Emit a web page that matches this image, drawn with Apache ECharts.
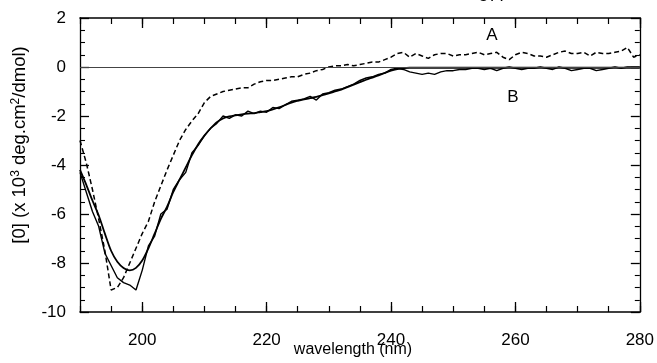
<!DOCTYPE html>
<html>
<head>
<meta charset="utf-8">
<script src="https://cdn.jsdelivr.net/npm/echarts@6/dist/echarts.min.js"></script>
<style>html,body{margin:0;padding:0;background:#fff;}#c{width:657px;height:363px;}</style>
</head>
<body>
<div id="c"></div>
<script>
var wavelength = [190,191,192,193,194,195,196,197,198,199,200,201,202,203,204,205,206,207,208,209,210,211,212,213,214,215,216,217,218,219,220,221,222,223,224,225,226,227,228,229,230,231,232,233,234,235,236,237,238,239,240,241,242,243,244,245,246,247,248,249,250,251,252,253,254,255,256,257,258,259,260,261,262,263,264,265,266,267,268,269,270,271,272,273,274,275,276,277,278,279,280];
var seriesA = [-3.0,-3.9,-5.0,-6.2,-7.5,-9.1,-9.0,-8.6,-8.0,-7.4,-6.8,-6.3,-5.5,-4.85,-4.2,-3.6,-3.0,-2.55,-2.2,-1.9,-1.45,-1.2,-1.1,-1.0,-0.95,-0.9,-0.85,-0.85,-0.7,-0.6,-0.55,-0.55,-0.5,-0.45,-0.4,-0.4,-0.3,-0.25,-0.15,-0.1,0.0,0.05,0.05,0.1,0.05,0.1,0.15,0.2,0.2,0.3,0.4,0.55,0.6,0.4,0.55,0.45,0.35,0.5,0.55,0.55,0.45,0.5,0.5,0.55,0.6,0.5,0.55,0.6,0.4,0.3,0.5,0.6,0.55,0.45,0.45,0.4,0.5,0.6,0.65,0.55,0.55,0.6,0.45,0.6,0.55,0.55,0.6,0.65,0.8,0.4,0.5];
var seriesBraw = [-4.3,-5.1,-5.9,-6.5,-7.6,-8.1,-8.6,-8.8,-8.9,-9.1,-8.3,-7.3,-6.9,-6.0,-5.8,-5.0,-4.6,-4.3,-3.5,-3.2,-2.8,-2.5,-2.3,-2.0,-2.1,-1.95,-2.0,-1.8,-1.9,-1.8,-1.85,-1.65,-1.7,-1.55,-1.4,-1.35,-1.3,-1.2,-1.35,-1.1,-1.05,-0.95,-0.9,-0.8,-0.7,-0.55,-0.45,-0.4,-0.3,-0.25,-0.1,-0.05,-0.1,-0.2,-0.25,-0.3,-0.25,-0.3,-0.2,-0.15,-0.15,-0.1,-0.1,-0.05,-0.05,-0.1,-0.05,-0.15,-0.05,0.0,-0.05,-0.1,-0.05,-0.05,0,-0.05,-0.1,0,-0.05,-0.15,-0.1,-0.05,-0.05,-0.15,-0.1,-0.05,0,-0.05,0,0,0];
var seriesBfit = [-4.2,-4.8,-5.45,-6.05,-6.8,-7.5,-7.95,-8.2,-8.3,-8.2,-7.9,-7.4,-6.8,-6.2,-5.7,-5.1,-4.6,-4.1,-3.6,-3.15,-2.8,-2.5,-2.25,-2.1,-2.02,-1.97,-1.93,-1.9,-1.88,-1.84,-1.8,-1.73,-1.65,-1.55,-1.45,-1.38,-1.32,-1.27,-1.22,-1.15,-1.08,-1.0,-0.92,-0.82,-0.72,-0.62,-0.52,-0.43,-0.34,-0.24,-0.15,-0.09,-0.05,-0.03,-0.03,-0.03,-0.03,-0.03,-0.03,-0.03,-0.03,-0.03,-0.03,-0.03,-0.03,-0.03,-0.03,-0.03,-0.03,-0.03,-0.03,-0.03,-0.03,-0.03,-0.03,-0.03,-0.03,-0.03,-0.03,-0.03,-0.03,-0.03,-0.03,-0.03,-0.03,-0.03,-0.03,-0.03,-0.03,-0.03,-0.03];
var xLabelValues = [200,220,240,260,280];
var yTicks = {min:-10, max:2, interval:2};

function pairs(xs, ys){ return xs.map(function(x,i){ return [x, ys[i]]; }); }

var FONT = 'Liberation Sans';
var chart = echarts.init(document.getElementById('c'), null, {renderer:'canvas'});

function xAxisDef(pos, major){
  var a = {
    type:'value', min:190, max:280, position:pos,
    axisLine:{show:major, onZero:false, lineStyle:{color:'#000', width:1.6}},
    splitLine:{show:false},
    axisLabel:{show:false}
  };
  if (major) {
    a.axisTick = {show:true, inside:true, length:10, customValues:xLabelValues, lineStyle:{color:'#000', width:1.3}};
    if (pos === 'bottom') {
      a.axisLabel = {show:true, customValues:xLabelValues, fontSize:17, color:'#000', fontFamily:FONT, margin:20};
    }
  } else {
    a.interval = 5;
    a.axisTick = {show:true, inside:true, length:6, lineStyle:{color:'#000', width:1.2}};
  }
  return a;
}

function yAxisDef(pos){
  return {
    type:'value', min:yTicks.min, max:yTicks.max, interval:yTicks.interval, position:pos,
    axisLine:{show:true, onZero:false, lineStyle:{color:'#000', width:1.3}},
    axisTick:{show:true, inside:true, length:9, lineStyle:{color:'#000', width:1.3}},
    minorTick:{show:true, splitNumber:4, length:5, lineStyle:{color:'#000', width:1.1}},
    axisLabel:{show:pos==='left', fontSize:17, color:'#000', fontFamily:FONT, margin:14},
    splitLine:{show:false}, minorSplitLine:{show:false}
  };
}

chart.setOption({
  animation:false,
  backgroundColor:'#fff',
  grid:{left:80, right:17, top:18, bottom:51, containLabel:false},
  xAxis:[xAxisDef('bottom',true), xAxisDef('bottom',false), xAxisDef('top',true), xAxisDef('top',false)],
  yAxis:[yAxisDef('left'), yAxisDef('right')],
  series:[
    {name:'A', type:'line', xAxisIndex:0, yAxisIndex:0, data:pairs(wavelength, seriesA), showSymbol:false, symbol:'none',
     lineStyle:{color:'#000', width:1.5, type:[5,3]},
     markLine:{silent:true, symbol:['none','none'], label:{show:false}, lineStyle:{color:'#444', width:1, type:'solid'}, data:[{yAxis:0}]}},
    {name:'B raw', type:'line', xAxisIndex:0, yAxisIndex:0, data:pairs(wavelength, seriesBraw), showSymbol:false, symbol:'none',
     lineStyle:{color:'#000', width:1.4}},
    {name:'B fit', type:'line', xAxisIndex:0, yAxisIndex:0, data:pairs(wavelength, seriesBfit), showSymbol:false, symbol:'none', smooth:0.3,
     lineStyle:{color:'#000', width:1.8}}
  ],
  graphic:[
    {type:'text', x:20, y:145, rotation:Math.PI/2, style:{
      text:'{n|[0] (x 10}{s|3}{n| deg.cm}{s|2}{n|/dmol)}',
      rich:{n:{fontSize:18.5, fontFamily:FONT, fill:'#000', lineHeight:20}, s:{fontSize:12, fontFamily:FONT, fill:'#000', verticalAlign:'top', lineHeight:20}},
      textAlign:'center', textVerticalAlign:'middle'}},
    {type:'text', x:353, y:350, style:{text:'wavelength (nm)', fontSize:16, fontFamily:FONT, fill:'#000', textAlign:'center', textVerticalAlign:'middle'}},
    {type:'text', x:492, y:35, style:{text:'A', fontSize:17, fontFamily:FONT, fill:'#000', textAlign:'center', textVerticalAlign:'middle'}},
    {type:'text', x:513, y:97, style:{text:'B', fontSize:17, fontFamily:FONT, fill:'#000', textAlign:'center', textVerticalAlign:'middle'}},
    {type:'text', x:493, y:-4, style:{text:'577', fontSize:17, fontFamily:FONT, fill:'#000', textAlign:'center', textVerticalAlign:'middle'}}
  ]
});
</script>
</body>
</html>
